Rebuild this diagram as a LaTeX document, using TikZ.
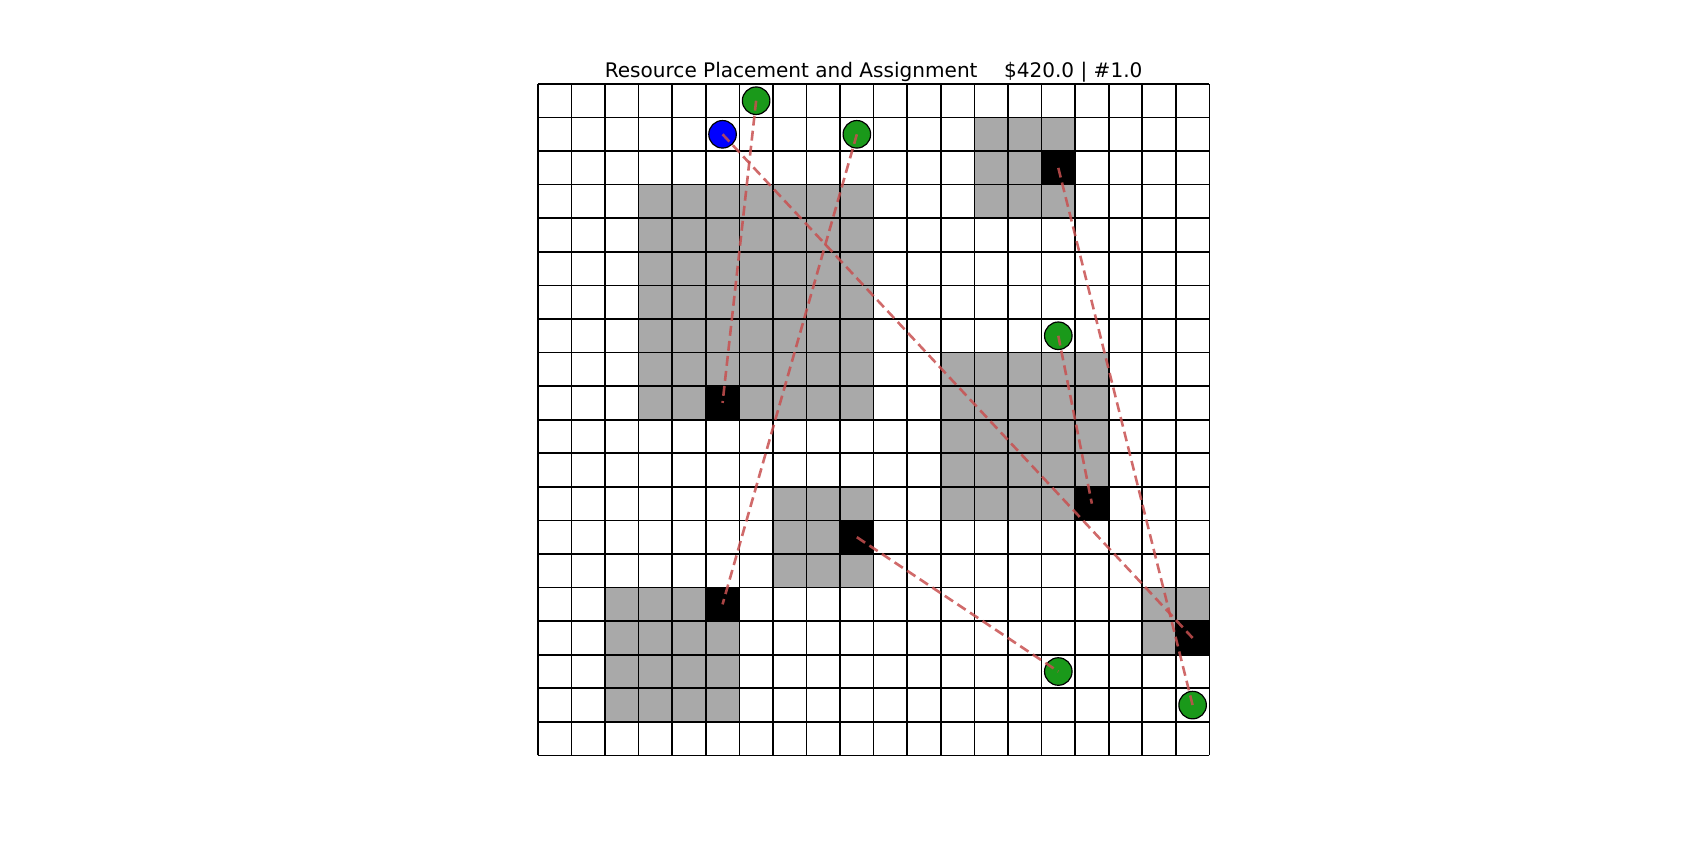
\documentclass[tikz,border=0pt]{standalone}
\usepackage{fontspec}
\setmainfont{DejaVu Sans}
\usepackage{xcolor}
\definecolor{gridgray}{RGB}{169,169,169}
\definecolor{resgreen}{RGB}{26,153,26}
\definecolor{resblue}{RGB}{0,0,255}
\definecolor{linkred}{RGB}{200,80,80}
\usepackage{tikz}
\usetikzlibrary{positioning}

\begin{document}
\begin{tikzpicture}[x=0.5cm, y=0.5cm,
  site/.style={rectangle, fill=black, minimum size=0.5cm, inner sep=0pt, outer sep=0pt},
  res/.style={circle, draw=black, line width=0.5pt, minimum size=0.41cm, inner sep=0pt},
  zone/.style={fill=gridgray},
  link/.style={draw=linkred, line width=1.1pt, dash pattern=on 4.2pt off 2.2pt, opacity=0.85}
]
\useasboundingbox (-16.02,-2.55) rectangle (34.82,22.50);

% Title
\node[anchor=base, font=\fontsize{8.5}{10}\selectfont] (title) at (10,20.19)
  {Resource Placement and Assignment \quad \$420.0 | \#1.0};

% Blocked zones
\fill[zone] (3,10) rectangle (10,17);
\fill[zone] (13,16) rectangle (16,19);
\fill[zone] (12,7) rectangle (17,12);
\fill[zone] (7,5) rectangle (10,8);
\fill[zone] (2,1) rectangle (6,5);
\fill[zone] (18,3) rectangle (20,5);

% Sites
\node[site] (s1) at (5.5,10.5) {};
\node[site] (s2) at (15.5,17.5) {};
\node[site] (s3) at (16.5,7.5) {};
\node[site] (s4) at (9.5,6.5) {};
\node[site] (s5) at (5.5,4.5) {};
\node[site] (s6) at (19.5,3.5) {};

% Grid
\foreach \i in {0,...,20}{
  \draw[line width=0.7pt] (\i,0) -- (\i,20);
  \draw[line width=0.7pt] (0,\i) -- (20,\i);
}

% Resources
\node[res, fill=resblue]  (b)  at (5.5,18.5) {};
\node[res, fill=resgreen] (g1) at (6.5,19.5) {};
\node[res, fill=resgreen] (g2) at (9.5,18.5) {};
\node[res, fill=resgreen] (g3) at (15.5,12.5) {};
\node[res, fill=resgreen] (g4) at (15.5,2.5) {};
\node[res, fill=resgreen] (g5) at (19.5,1.5) {};

% Assignments
\draw[link] (g1.center) -- (s1.center);
\draw[link] (g2.center) -- (s5.center);
\draw[link] (b.center)  -- (s6.center);
\draw[link] (s2.center) -- (g5.center);
\draw[link] (g3.center) -- (s3.center);
\draw[link] (s4.center) -- (g4.center);
\end{tikzpicture}
\end{document}
